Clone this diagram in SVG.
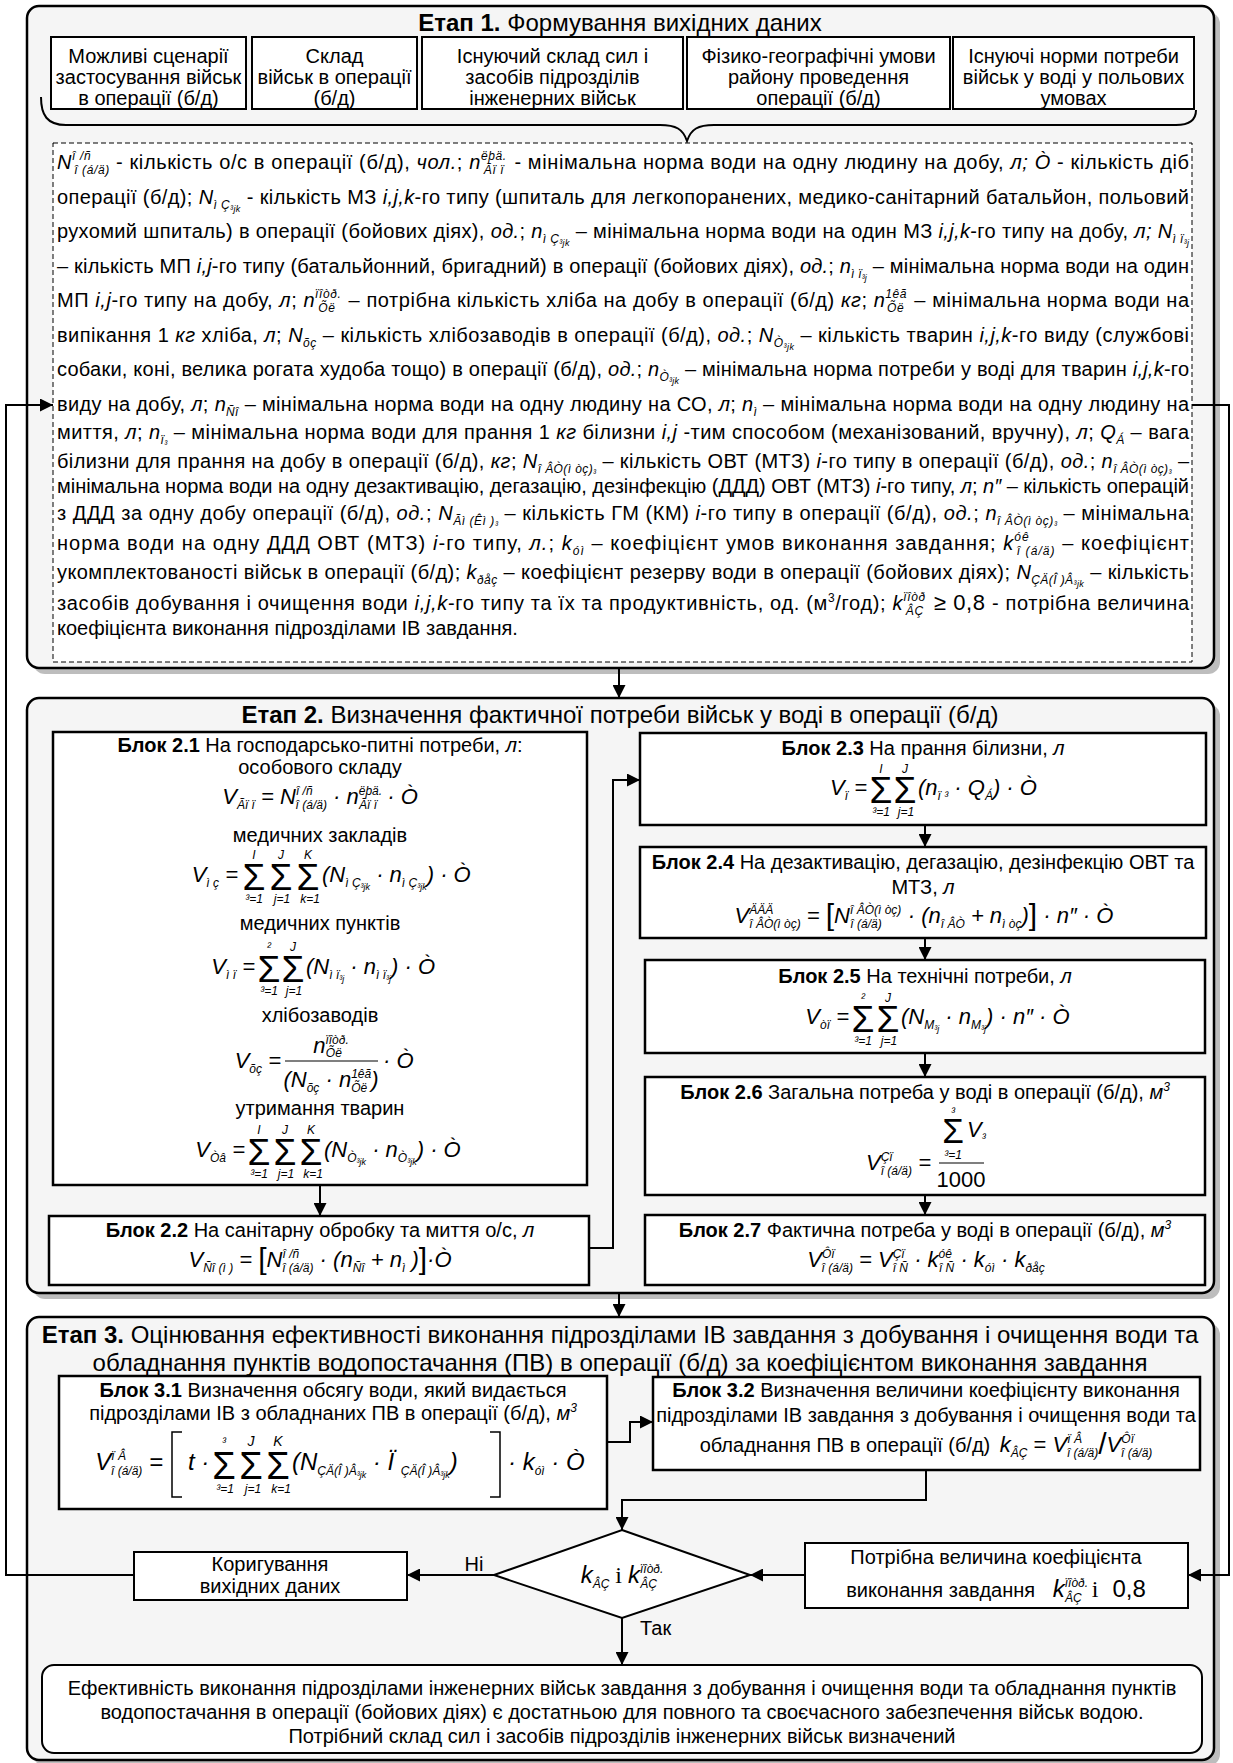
<svg xmlns="http://www.w3.org/2000/svg" width="1233" height="1763" viewBox="0 0 1233 1763">
<style>
.t{font-family:"Liberation Sans",Arial,sans-serif;font-size:20px;fill:#000}
.h{font-size:24px}
.bd{font-weight:bold}
.it{font-style:italic}
.fm{font-family:"Liberation Sans",Arial,sans-serif;font-style:italic;font-size:22px;fill:#000}
.fb{font-size:24px}
.sc{font-size:12px;font-style:italic}
.ss{font-size:9px;font-style:italic}
.lim{font-family:"Liberation Sans",Arial,sans-serif;font-style:italic;font-size:12px;text-anchor:middle}
.sg{font-family:"Liberation Sans",Arial,sans-serif;font-size:37px;text-anchor:middle}
.br{font-size:30px;font-style:normal}
.tm{font-family:"Liberation Serif","Times New Roman",serif;font-style:normal}
.stage{fill:#f5f5f5;stroke:#000;stroke-width:2.5}
.shadow{fill:#bdbdbd}
.blk{fill:#fff;stroke:#000;stroke-width:2.5}
.inp{fill:#fff;stroke:#000;stroke-width:2}
.dash{fill:#fff;stroke:#000;stroke-width:1;stroke-dasharray:5,3}
.con{fill:none;stroke:#000;stroke-width:2}
.mid{text-anchor:middle}
</style>
<defs>
<marker id="ah" viewBox="0 0 10 10" refX="10" refY="5" markerWidth="13" markerHeight="13" markerUnits="userSpaceOnUse" orient="auto"><path d="M0,0 L10,5 L0,10 z" fill="#000"/></marker>
</defs>

<g id="stage1">
<rect class="shadow" x="33" y="12" width="1187" height="662" rx="12"/>
<rect class="stage" x="27" y="6" width="1187" height="662" rx="12"/>
<text class="t h mid" x="620" y="31"><tspan class="bd">Етап 1.</tspan> Формування вихідних даних</text>
</g>

<g id="input1">
<rect class="inp" x="51" y="37" width="195" height="72"/>
<text class="t mid" x="148.5" y="63">Можливі сценарії</text>
<text class="t mid" x="148.5" y="84">застосування військ</text>
<text class="t mid" x="148.5" y="105">в операції (б/д)</text>
</g>
<g id="input2">
<rect class="inp" x="252" y="37" width="165" height="72"/>
<text class="t mid" x="334.5" y="63">Склад</text>
<text class="t mid" x="334.5" y="84">військ в операції</text>
<text class="t mid" x="334.5" y="105">(б/д)</text>
</g>
<g id="input3">
<rect class="inp" x="422" y="37" width="261" height="72"/>
<text class="t mid" x="552.5" y="63">Існуючий склад сил і</text>
<text class="t mid" x="552.5" y="84">засобів підрозділів</text>
<text class="t mid" x="552.5" y="105">інженерних військ</text>
</g>
<g id="input4">
<rect class="inp" x="687" y="37" width="263" height="72"/>
<text class="t mid" x="818.5" y="63">Фізико-географічні умови</text>
<text class="t mid" x="818.5" y="84">району проведення</text>
<text class="t mid" x="818.5" y="105">операції (б/д)</text>
</g>
<g id="input5">
<rect class="inp" x="953" y="37" width="241" height="72"/>
<text class="t mid" x="1073.5" y="63">Існуючі норми потреби</text>
<text class="t mid" x="1073.5" y="84">військ у воді у польових</text>
<text class="t mid" x="1073.5" y="105">умовах</text>
</g>

<g id="brace">
<path class="con" d="M41,97 C41,115 47,125 66,125 L660,125 C676,125 683,129 687,141 C691,129 698,125 714,125 L1176,125 C1190,125 1196,120 1196,110"/>
</g>

<g id="initial-data">
<rect class="dash" x="53" y="143" width="1139" height="519"/>
<text class="t" x="57" y="169" textLength="1132" lengthAdjust="spacing"><tspan class="it">N</tspan><tspan class="sc" dy="-9">î /ñ</tspan><tspan class="sc" dx="-17" dy="14">î (á/ä)</tspan><tspan dy="-5"> - кількість о/с в операції (б/д), </tspan><tspan class="it">чол.</tspan>;  <tspan class="it">n</tspan><tspan class="sc" dy="-9">ëþä.</tspan><tspan class="sc" dx="-23" dy="14">Ãï ï</tspan><tspan dx="4" dy="-5"> - мінімальна норма води на одну людину на добу, </tspan><tspan class="it">л; Ò</tspan> - кількість діб</text>
<text class="t" x="57" y="204" textLength="1132" lengthAdjust="spacing">операції (б/д);  <tspan class="it">N</tspan><tspan class="sc" dy="5">ì Ç</tspan><tspan class="ss" dy="3">³jk</tspan><tspan dy="-8">  - кількість МЗ </tspan><tspan class="it">i,j,k</tspan>-го типу (шпиталь для легкопоранених, медико-санітарний батальйон, польовий</text>
<text class="t" x="57" y="238" textLength="1132" lengthAdjust="spacing">рухомий шпиталь) в операції (бойових діях), <tspan class="it">од.</tspan>;  <tspan class="it">n</tspan><tspan class="sc" dy="5">ì Ç</tspan><tspan class="ss" dy="3">³jk</tspan><tspan dy="-8">  – мінімальна норма води на один МЗ </tspan><tspan class="it">i,j,k</tspan>-го типу на добу, <tspan class="it">л;</tspan>  <tspan class="it">N</tspan><tspan class="sc" dy="5">ì ï</tspan><tspan class="ss" dy="3">³j</tspan></text>
<text class="t" x="57" y="273" textLength="1132" lengthAdjust="spacing">– кількість МП <tspan class="it">i,j</tspan>-го типу (батальйонний, бригадний) в операції (бойових діях), <tspan class="it">од.</tspan>;  <tspan class="it">n</tspan><tspan class="sc" dy="5">ì ï</tspan><tspan class="ss" dy="3">³j</tspan><tspan dy="-8">  – мінімальна норма води на один</tspan></text>
<text class="t" x="57" y="307" textLength="1132" lengthAdjust="spacing">МП <tspan class="it">i,j</tspan>-го типу на добу, <tspan class="it">л</tspan>;  <tspan class="it">n</tspan><tspan class="sc" dy="-9">ïîòð.</tspan><tspan class="sc" dx="-23" dy="14">Õë</tspan><tspan dx="7" dy="-5"> – потрібна кількість хліба на добу в операції (б/д) </tspan><tspan class="it">кг</tspan>;  <tspan class="it">n</tspan><tspan class="sc" dy="-9">1êã</tspan><tspan class="sc" dx="-20" dy="14">Õë</tspan><tspan dx="4" dy="-5"> – мінімальна норма води на</tspan></text>
<text class="t" x="57" y="342" textLength="1132" lengthAdjust="spacing">випікання 1 <tspan class="it">кг</tspan> хліба, <tspan class="it">л</tspan>;  <tspan class="it">N</tspan><tspan class="sc" dy="5">õç</tspan><tspan dy="-5"> – кількість хлібозаводів в операції (б/д), </tspan><tspan class="it">од.</tspan>;  <tspan class="it">N</tspan><tspan class="sc" dy="5">Ò</tspan><tspan class="ss" dy="3">³jk</tspan><tspan dy="-8"> – кількість тварин </tspan><tspan class="it">i,j,k</tspan>-го виду (службові</text>
<text class="t" x="57" y="376" textLength="1132" lengthAdjust="spacing">собаки, коні, велика рогата худоба тощо) в операції (б/д), <tspan class="it">од.</tspan>;  <tspan class="it">n</tspan><tspan class="sc" dy="5">Ò</tspan><tspan class="ss" dy="3">³jk</tspan><tspan dy="-8"> – мінімальна норма потреби у воді для тварин </tspan><tspan class="it">i,j,k</tspan>-го</text>
<text class="t" x="57" y="411" textLength="1132" lengthAdjust="spacing">виду на добу, <tspan class="it">л</tspan>;  <tspan class="it">n</tspan><tspan class="sc" dy="5">Ñî</tspan><tspan dy="-5">  – мінімальна норма води на одну людину на СО, </tspan><tspan class="it">л</tspan>;  <tspan class="it">n</tspan><tspan class="sc" dy="5">ì</tspan><tspan dy="-5">  – мінімальна норма води на одну людину на</tspan></text>
<text class="t" x="57" y="439" textLength="1132" lengthAdjust="spacing">миття, <tspan class="it">л</tspan>;  <tspan class="it">n</tspan><tspan class="sc" dy="5">ï</tspan><tspan class="ss" dy="3">³</tspan><tspan dy="-8"> – мінімальна норма води для прання 1 </tspan><tspan class="it">кг</tspan> білизни <tspan class="it">i,j</tspan> -тим способом (механізований, вручну), <tspan class="it">л</tspan>;  <tspan class="it">Q</tspan><tspan class="sc" dy="5">Á</tspan><tspan dy="-5">  – вага</tspan></text>
<text class="t" x="57" y="468" textLength="1132" lengthAdjust="spacing">білизни для прання на добу в операції (б/д), <tspan class="it">кг</tspan>;  <tspan class="it">N</tspan><tspan class="sc" dy="5">î ÂÒ(ì òç)</tspan><tspan class="ss" dy="3">³</tspan><tspan dy="-8"> – кількість ОВТ (МТЗ) </tspan><tspan class="it">i</tspan>-го типу в операції (б/д), <tspan class="it">од.</tspan>;  <tspan class="it">n</tspan><tspan class="sc" dy="5">î ÂÒ(ì òç)</tspan><tspan class="ss" dy="3">³</tspan><tspan dy="-8"> –</tspan></text>
<text class="t" x="57" y="493" textLength="1132" lengthAdjust="spacing">мінімальна норма води на одну дезактивацію, дегазацію, дезінфекцію (ДДД) ОВТ (МТЗ) <tspan class="it">i</tspan>-го типу, <tspan class="it">л</tspan>;  <tspan class="it">n″</tspan> – кількість операцій</text>
<text class="t" x="57" y="520" textLength="1132" lengthAdjust="spacing">з ДДД за одну добу операції (б/д), <tspan class="it">од.</tspan>;  <tspan class="it">N</tspan><tspan class="sc" dy="5">Ãì (Êì )</tspan><tspan class="ss" dy="3">³</tspan><tspan dy="-8"> – кількість ГМ (КМ) </tspan><tspan class="it">i</tspan>-го типу в операції (б/д), <tspan class="it">од.</tspan>;  <tspan class="it">n</tspan><tspan class="sc" dy="5">î ÂÒ(ì òç)</tspan><tspan class="ss" dy="3">³</tspan><tspan dy="-8"> – мінімальна</tspan></text>
<text class="t" x="57" y="550" textLength="1132" lengthAdjust="spacing">норма води на одну ДДД ОВТ (МТЗ) <tspan class="it">i</tspan>-го типу, <tspan class="it">л.</tspan>;  <tspan class="it">k</tspan><tspan class="sc" dy="5">óì</tspan><tspan dy="-5">  – коефіцієнт умов виконання завдання;  </tspan><tspan class="it">k</tspan><tspan class="sc" dy="-9">óê</tspan><tspan class="sc" dx="-13" dy="14">î (á/ä)</tspan><tspan dy="-5">  – коефіцієнт</tspan></text>
<text class="t" x="57" y="579" textLength="1132" lengthAdjust="spacing">укомплектованості військ в операції (б/д);  <tspan class="it">k</tspan><tspan class="sc" dy="5">ðåç</tspan><tspan dy="-5">  – коефіцієнт резерву води в операції (бойових діях);  </tspan><tspan class="it">N</tspan><tspan class="sc" dy="5">ÇÄ(Î )Â</tspan><tspan class="ss" dy="3">³jk</tspan><tspan dy="-8"> – кількість</tspan></text>
<text class="t" x="57" y="610" textLength="1132" lengthAdjust="spacing">засобів добування і очищення води <tspan class="it">i,j,k</tspan>-го типу та їх та продуктивність, од. (м<tspan class="sc" style="font-style:normal" dy="-8">3</tspan><tspan dy="8">/год);  </tspan><tspan class="it">k</tspan><tspan class="sc" dy="-9">ïîòð</tspan><tspan class="sc" dx="-20" dy="14">ÂÇ</tspan><tspan dx="3" dy="-5" style="font-size:22px"> ≥ 0,8</tspan> - потрібна величина</text>
<text class="t" x="57" y="635">коефіцієнта виконання підрозділами ІВ завдання.</text>
</g>

<g id="stage2">
<rect class="shadow" x="33" y="704" width="1187" height="595" rx="12"/>
<rect class="stage" x="27" y="698" width="1187" height="595" rx="12"/>
<text class="t h mid" x="620" y="723"><tspan class="bd">Етап 2.</tspan> Визначення фактичної потреби військ у воді в операції (б/д)</text>
</g>

<g id="block2-1">
<rect class="blk" x="53" y="732" width="534" height="453"/>
<text class="t mid" x="320" y="752"><tspan class="bd">Блок 2.1</tspan> На господарсько-питні потреби, <tspan class="it">л</tspan>:</text>
<text class="t mid" x="320" y="774">особового складу</text>
<text class="fm mid" x="320" y="804">V<tspan class="sc" dy="5">Ãï ï</tspan><tspan dy="-5"> = N</tspan><tspan class="sc" dy="-9">î /ñ</tspan><tspan class="sc" dx="-17" dy="14">î (á/ä)</tspan><tspan dy="-5"> · n</tspan><tspan class="sc" dy="-9">ëþä.</tspan><tspan class="sc" dx="-23" dy="14">Ãï ï</tspan><tspan dx="4" dy="-5"> · Ò</tspan></text>
<text class="t mid" x="320" y="842">медичних закладів</text>
<text class="fm" x="238" y="882" text-anchor="end">V<tspan class="sc" dy="5">ì ç</tspan><tspan dy="-5"> =</tspan></text>
<text class="sg" x="254" y="890">Σ</text><text class="sg" x="281" y="890">Σ</text><text class="sg" x="308" y="890">Σ</text>
<text class="lim" x="254" y="859">I</text><text class="lim" x="281" y="859">J</text><text class="lim" x="308" y="859">K</text>
<text class="lim" x="254" y="903">³=1</text><text class="lim" x="282" y="903">j=1</text><text class="lim" x="310" y="903">k=1</text>
<text class="fm" x="322" y="882">(N<tspan class="sc" dy="5">ì Ç</tspan><tspan class="ss" dy="3">³jk</tspan><tspan dy="-8"> · n</tspan><tspan class="sc" dy="5">ì Ç</tspan><tspan class="ss" dy="3">³jk</tspan><tspan dy="-8">) · Ò</tspan></text>
<text class="t mid" x="320" y="930">медичних пунктів</text>
<text class="fm" x="255" y="974" text-anchor="end">V<tspan class="sc" dy="5">ì ï</tspan><tspan dy="-5"> =</tspan></text>
<text class="sg" x="269" y="982">Σ</text><text class="sg" x="293" y="982">Σ</text>
<text class="lim" x="269" y="951">²</text><text class="lim" x="293" y="951">J</text>
<text class="lim" x="269" y="995">³=1</text><text class="lim" x="294" y="995">j=1</text>
<text class="fm" x="306" y="974">(N<tspan class="sc" dy="5">ì ï</tspan><tspan class="ss" dy="3">³j</tspan><tspan dy="-8"> · n</tspan><tspan class="sc" dy="5">ì ï</tspan><tspan class="ss" dy="3">³j</tspan><tspan dy="-8">) · Ò</tspan></text>
<text class="t mid" x="320" y="1022">хлібозаводів</text>
<text class="fm" x="281" y="1068" text-anchor="end">V<tspan class="sc" dy="5">õç</tspan><tspan dy="-5"> =</tspan></text>
<text class="fm mid" x="331" y="1053">n<tspan class="sc" dy="-9">ïîòð.</tspan><tspan class="sc" dx="-23" dy="13">Õë</tspan><tspan dx="7" dy="-4"> </tspan></text>
<line x1="285" y1="1061" x2="378" y2="1061" stroke="#000" stroke-width="1.2"/>
<text class="fm mid" x="331" y="1087">(N<tspan class="sc" dy="5">õç</tspan><tspan dy="-5"> · n</tspan><tspan class="sc" dy="-9">1êã</tspan><tspan class="sc" dx="-20" dy="14">Õë</tspan><tspan dx="4" dy="-5">)</tspan></text>
<text class="fm" x="383" y="1068">· Ò</text>
<text class="t mid" x="320" y="1115">утримання тварин</text>
<text class="fm" x="245" y="1157" text-anchor="end">V<tspan class="sc" dy="5">Òâ</tspan><tspan dy="-5"> =</tspan></text>
<text class="sg" x="259" y="1165">Σ</text><text class="sg" x="285" y="1165">Σ</text><text class="sg" x="311" y="1165">Σ</text>
<text class="lim" x="259" y="1134">I</text><text class="lim" x="285" y="1134">J</text><text class="lim" x="311" y="1134">K</text>
<text class="lim" x="259" y="1178">³=1</text><text class="lim" x="286" y="1178">j=1</text><text class="lim" x="313" y="1178">k=1</text>
<text class="fm" x="324" y="1157">(N<tspan class="sc" dy="5">Ò</tspan><tspan class="ss" dy="3">³jk</tspan><tspan dy="-8"> · n</tspan><tspan class="sc" dy="5">Ò</tspan><tspan class="ss" dy="3">³jk</tspan><tspan dy="-8">) · Ò</tspan></text>
</g>

<g id="block2-2">
<rect class="blk" x="49" y="1216" width="540" height="69"/>
<text class="t mid" x="320" y="1237"><tspan class="bd">Блок 2.2</tspan> На санітарну обробку та миття о/с, <tspan class="it">л</tspan></text>
<text class="fm mid" x="320" y="1267">V<tspan class="sc" dy="5">Ñî (ì )</tspan><tspan dy="-5"> = </tspan><tspan class="br" dy="2">[</tspan><tspan dy="-2">N</tspan><tspan class="sc" dy="-9">î /ñ</tspan><tspan class="sc" dx="-17" dy="14">î (á/ä)</tspan><tspan dy="-5"> · (n</tspan><tspan class="sc" dy="5">Ñî</tspan><tspan dy="-5">  + n</tspan><tspan class="sc" dy="5">ì</tspan><tspan dy="-5">  )</tspan><tspan class="br" dy="2">]</tspan><tspan dy="-2">·Ò</tspan></text>
</g>

<g id="block2-3">
<rect class="blk" x="640" y="733" width="566" height="92"/>
<text class="t mid" x="923" y="755"><tspan class="bd">Блок 2.3</tspan> На прання білизни, <tspan class="it">л</tspan></text>
<text class="fm" x="867" y="795" text-anchor="end">V<tspan class="sc" dy="5">ï</tspan><tspan dy="-5">  =</tspan></text>
<text class="sg" x="881" y="803">Σ</text><text class="sg" x="905" y="803">Σ</text>
<text class="lim" x="881" y="773">I</text><text class="lim" x="905" y="773">J</text>
<text class="lim" x="881" y="816">³=1</text><text class="lim" x="906" y="816">j=1</text>
<text class="fm" x="918" y="795">(n<tspan class="sc" dy="5">ï ³</tspan><tspan dy="-5"> · Q</tspan><tspan class="sc" dy="5">Á</tspan><tspan dy="-5">) · Ò</tspan></text>
</g>

<g id="block2-4">
<rect class="blk" x="640" y="847" width="566" height="91"/>
<text class="t mid" x="923" y="869"><tspan class="bd">Блок 2.4</tspan> На дезактивацію, дегазацію, дезінфекцію ОВТ та</text>
<text class="t mid" x="923" y="894">МТЗ, <tspan class="it">л</tspan></text>
<text class="fm mid" x="924" y="923">V<tspan class="sc" dy="-9">ÄÄÄ</tspan><tspan class="sc" dx="-24" dy="14">î ÂÒ(ì òç)</tspan><tspan dy="-5"> = </tspan><tspan class="br" dy="2">[</tspan><tspan dy="-2">N</tspan><tspan class="sc" dy="-9">î ÂÒ(ì òç)</tspan><tspan class="sc" dx="-51" dy="14">î (á/ä)</tspan><tspan dx="20" dy="-5"> · (n</tspan><tspan class="sc" dy="5">î ÂÒ</tspan><tspan dy="-5"> + n</tspan><tspan class="sc" dy="5">ì òç</tspan><tspan dy="-5">)</tspan><tspan class="br" dy="2">]</tspan><tspan dy="-2"> · n″ · Ò</tspan></text>
</g>

<g id="block2-5">
<rect class="blk" x="645" y="960" width="560" height="93"/>
<text class="t mid" x="925" y="983"><tspan class="bd">Блок 2.5</tspan> На технічні потреби, <tspan class="it">л</tspan></text>
<text class="fm" x="849" y="1024" text-anchor="end">V<tspan class="sc" dy="5">òï</tspan><tspan dy="-5">  =</tspan></text>
<text class="sg" x="863" y="1032">Σ</text><text class="sg" x="888" y="1032">Σ</text>
<text class="lim" x="863" y="1002">²</text><text class="lim" x="888" y="1002">J</text>
<text class="lim" x="863" y="1045">³=1</text><text class="lim" x="889" y="1045">j=1</text>
<text class="fm" x="901" y="1024">(N<tspan class="sc" dy="5">M</tspan><tspan class="ss" dy="3">³j</tspan><tspan dy="-8"> · n</tspan><tspan class="sc" dy="5">M</tspan><tspan class="ss" dy="3">³j</tspan><tspan dy="-8">) · n″ · Ò</tspan></text>
</g>

<g id="block2-6">
<rect class="blk" x="645" y="1077" width="560" height="118"/>
<text class="t mid" x="925" y="1099"><tspan class="bd">Блок 2.6</tspan> Загальна потреба у воді в операції (б/д), <tspan class="it">м</tspan><tspan class="sc" dy="-8">3</tspan></text>
<text class="fm" x="931" y="1170" text-anchor="end">V<tspan class="sc" dy="-9">Çï</tspan><tspan class="sc" dx="-12" dy="14">î (á/ä)</tspan><tspan dy="-5"> =</tspan></text>
<text class="sg" x="953" y="1143" style="font-size:35px">Σ</text>
<text class="fm" x="967" y="1137">V<tspan class="sc" dy="5">³</tspan></text>
<text class="lim" x="953" y="1116">³</text>
<text class="lim" x="953" y="1159">³=1</text>
<line x1="939" y1="1163" x2="984" y2="1163" stroke="#000" stroke-width="1.2"/>
<text class="t mid" x="961" y="1187" style="font-size:22px">1000</text>
</g>

<g id="block2-7">
<rect class="blk" x="645" y="1215" width="560" height="70"/>
<text class="t mid" x="925" y="1237"><tspan class="bd">Блок 2.7</tspan> Фактична потреба у воді в операції (б/д), <tspan class="it">м</tspan><tspan class="sc" dy="-8">3</tspan></text>
<text class="fm mid" x="926" y="1267">V<tspan class="sc" dy="-9">Ôï</tspan><tspan class="sc" dx="-13" dy="14">î (á/ä)</tspan><tspan dy="-5"> = V</tspan><tspan class="sc" dy="-9">Çï</tspan><tspan class="sc" dx="-12" dy="14">î Ñ</tspan><tspan dy="-5"> · k</tspan><tspan class="sc" dy="-9">óê</tspan><tspan class="sc" dx="-13" dy="14">î Ñ</tspan><tspan dy="-5"> · k</tspan><tspan class="sc" dy="5">óì</tspan><tspan dy="-5">  · k</tspan><tspan class="sc" dy="5">ðåç</tspan></text>
</g>

<g id="stage3">
<rect class="shadow" x="33" y="1323" width="1187" height="443" rx="12"/>
<rect class="stage" x="27" y="1317" width="1187" height="443" rx="12"/>
<text class="t h mid" x="620" y="1343"><tspan class="bd">Етап 3.</tspan> Оцінювання ефективності виконання підрозділами ІВ завдання з добування і очищення води та</text>
<text class="t h mid" x="620" y="1371">обладнання пунктів водопостачання (ПВ) в операції (б/д) за коефіцієнтом виконання завдання</text>
</g>

<g id="block3-1">
<rect class="blk" x="59" y="1376" width="548" height="133"/>
<text class="t mid" x="333" y="1397"><tspan class="bd">Блок 3.1</tspan> Визначення обсягу води, який видається</text>
<text class="t mid" x="333" y="1420">підрозділами ІВ з обладнаних ПВ в операції (б/д), <tspan class="it">м</tspan><tspan class="sc" dy="-8">3</tspan></text>
<text class="fm fb" x="163" y="1470" text-anchor="end">V<tspan class="sc" dy="-10">ï Â</tspan><tspan class="sc" dx="-15" dy="15">î (á/ä)</tspan><tspan dy="-5"> =</tspan></text>
<path d="M182,1432 H172 V1497 H182 M490,1432 H500 V1497 H490" fill="none" stroke="#000" stroke-width="1.5"/>
<text class="fm fb" x="188" y="1470">t ·</text>
<text class="sg" x="224" y="1479" style="font-size:38px">Σ</text><text class="sg" x="251" y="1479" style="font-size:38px">Σ</text><text class="sg" x="278" y="1479" style="font-size:38px">Σ</text>
<text class="lim" x="224" y="1446">³</text><text class="lim" x="251" y="1446" style="font-size:14px">J</text><text class="lim" x="278" y="1446" style="font-size:14px">K</text>
<text class="lim" x="225" y="1493">³=1</text><text class="lim" x="253" y="1493">j=1</text><text class="lim" x="281" y="1493">k=1</text>
<text class="fm fb" x="292" y="1470">(N<tspan class="sc" dy="5">ÇÄ(Î )Â</tspan><tspan class="ss" dy="3">³jk</tspan><tspan dy="-8"> · Ï </tspan><tspan class="sc" dy="5">ÇÄ(Î )Â</tspan><tspan class="ss" dy="3">³jk</tspan><tspan dy="-8">)</tspan></text>
<text class="fm fb" x="508" y="1470">· k<tspan class="sc" dy="5">óì</tspan><tspan dy="-5">  · Ò</tspan></text>
</g>

<g id="block3-2">
<rect class="blk" x="653" y="1377" width="547" height="93"/>
<text class="t mid" x="926" y="1397"><tspan class="bd">Блок 3.2</tspan> Визначення величини коефіцієнту виконання</text>
<text class="t mid" x="926" y="1422">підрозділами ІВ завдання з добування і очищення води та</text>
<text class="t mid" x="926" y="1452">обладнання ПВ в операції (б/д)  <tspan class="it" dx="4" style="font-size:22px">k</tspan><tspan class="sc" dy="5">ÂÇ</tspan><tspan dy="-5" style="font-size:22px"> = </tspan><tspan class="it" style="font-size:22px">V</tspan><tspan class="sc" dy="-9">ï Â</tspan><tspan class="sc" dx="-15" dy="14">î (á/ä)</tspan><tspan dy="-3" style="font-size:30px">/</tspan><tspan class="it" dy="-2" style="font-size:22px">V</tspan><tspan class="sc" dy="-9">Ôï</tspan><tspan class="sc" dx="-13" dy="14">î (á/ä)</tspan></text>
</g>

<g id="decision">
<polygon points="622,1530 750,1575 622,1618 494,1575" fill="#fff" stroke="#000" stroke-width="2"/>
<text class="fm fb mid" x="622" y="1583">k<tspan class="sc" dy="5">ÂÇ</tspan><tspan class="tm" dy="-5"> i  </tspan>k<tspan class="sc" dy="-10">ïîòð.</tspan><tspan class="sc" dx="-23" dy="15">ÂÇ</tspan></text>
</g>

<g id="correction">
<rect class="inp" x="134" y="1552" width="273" height="48"/>
<text class="t mid" x="270" y="1571">Коригування</text>
<text class="t mid" x="270" y="1593">вихідних даних</text>
</g>

<g id="required-value">
<rect class="inp" x="805" y="1543" width="383" height="65"/>
<text class="t mid" x="996" y="1564">Потрібна величина коефіцієнта</text>
<text class="t mid" x="996" y="1597">виконання завдання <tspan class="it" dx="12" style="font-size:24px">k</tspan><tspan class="sc" dy="-10">ïîòð.</tspan><tspan class="sc" dx="-23" dy="15">ÂÇ</tspan><tspan class="tm" dx="10" dy="-5" style="font-size:24px">i</tspan><tspan dx="14" style="font-size:24px">0,8</tspan></text>
</g>

<g id="result">
<rect x="42" y="1665" width="1160" height="88" rx="12" fill="#fff" stroke="#000" stroke-width="2"/>
<text class="t mid" x="622" y="1695">Ефективність виконання підрозділами інженерних військ завдання з добування і очищення води та обладнання пунктів</text>
<text class="t mid" x="622" y="1719">водопостачання в операції (бойових діях) є достатньою для повного та своєчасного забезпечення військ водою.</text>
<text class="t mid" x="622" y="1743">Потрібний склад сил і засобів підрозділів інженерних військ визначений</text>
</g>

<g id="connectors">
<path class="con" d="M619,668 V698" marker-end="url(#ah)"/>
<path class="con" d="M320,1185 V1216" marker-end="url(#ah)"/>
<path class="con" d="M589,1248 H613 V780 H640" marker-end="url(#ah)"/>
<path class="con" d="M925,825 V847" marker-end="url(#ah)"/>
<path class="con" d="M925,938 V960" marker-end="url(#ah)"/>
<path class="con" d="M925,1053 V1077" marker-end="url(#ah)"/>
<path class="con" d="M925,1195 V1215" marker-end="url(#ah)"/>
<path class="con" d="M619,1293 V1317" marker-end="url(#ah)"/>
<path class="con" d="M607,1442 H630 V1422 H653" marker-end="url(#ah)"/>
<path class="con" d="M926,1470 V1500 H622 V1530" marker-end="url(#ah)"/>
<path class="con" d="M494,1575 H407" marker-end="url(#ah)"/>
<path class="con" d="M134,1575 H6 V405 H53" marker-end="url(#ah)"/>
<path class="con" d="M1192,405 H1229 V1575 H1188" marker-end="url(#ah)"/>
<path class="con" d="M805,1575 H750" marker-end="url(#ah)"/>
<path class="con" d="M622,1618 V1665" marker-end="url(#ah)"/>
<text class="t mid" x="474" y="1571">Ні</text>
<text class="t" x="640" y="1635">Так</text>
</g>
</svg>
